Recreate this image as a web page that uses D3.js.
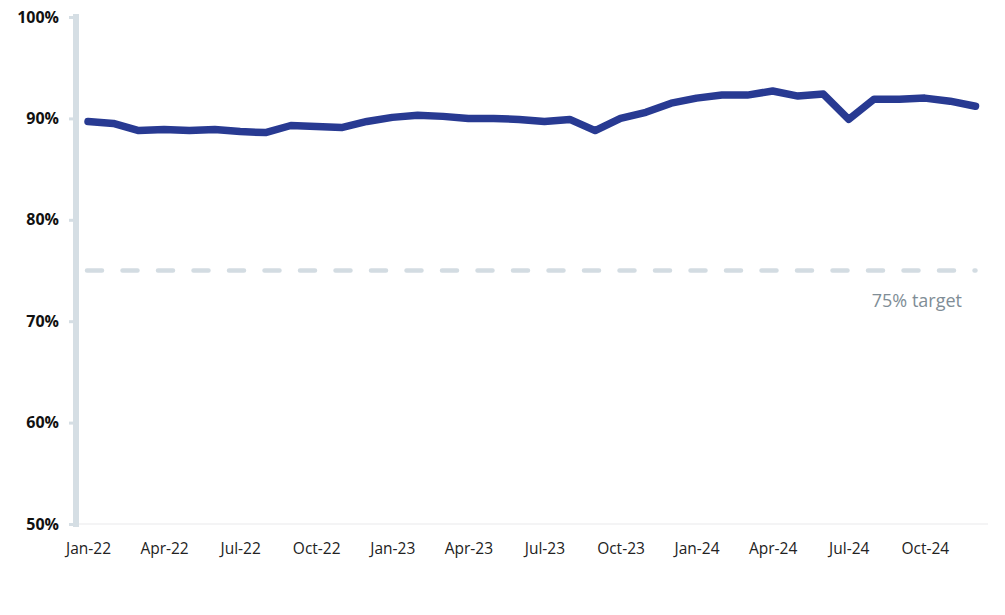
<!DOCTYPE html>
<html>
<head>
<meta charset="utf-8">
<script src="https://cdn.jsdelivr.net/npm/d3@7"></script>
<style>
  body { margin: 0; background: #fff; }
  svg { display: block; font-family: "Open Sans", "Noto Sans", sans-serif; }
</style>
</head>
<body>
<svg id="chart" width="1005" height="615"></svg>
<script>
// monthly values, Jan-22 .. Dec-24 (percent)
const months = [
  'Jan-22', 'Feb-22', 'Mar-22', 'Apr-22', 'May-22', 'Jun-22', 'Jul-22', 'Aug-22', 'Sep-22', 'Oct-22', 'Nov-22', 'Dec-22',
  'Jan-23', 'Feb-23', 'Mar-23', 'Apr-23', 'May-23', 'Jun-23', 'Jul-23', 'Aug-23', 'Sep-23', 'Oct-23', 'Nov-23', 'Dec-23',
  'Jan-24', 'Feb-24', 'Mar-24', 'Apr-24', 'May-24', 'Jun-24', 'Jul-24', 'Aug-24', 'Sep-24', 'Oct-24', 'Nov-24', 'Dec-24'
];
const values = [
  89.7, 89.5, 88.8, 88.9, 88.8, 88.9, 88.7, 88.6, 89.3, 89.2, 89.1, 89.7,
  90.1, 90.3, 90.2, 90.0, 90.0, 89.9, 89.7, 89.9, 88.8, 90.0, 90.6, 91.5,
  92.0, 92.3, 92.3, 92.7, 92.2, 92.4, 89.9, 91.9, 91.9, 92.0, 91.7, 91.2
];
const xTickLabels = ['Jan-22', 'Apr-22', 'Jul-22', 'Oct-22', 'Jan-23', 'Apr-23', 'Jul-23', 'Oct-23', 'Jan-24', 'Apr-24', 'Jul-24', 'Oct-24'];
const yTicks = [50, 60, 70, 80, 90, 100];
const target = 75;
const targetLabel = '75% target';

const width = 1005;
const height = 615;
const margin = { top: 17, right: 30, bottom: 91, left: 88 };

const svg = d3.select('#chart');

const x = d3.scalePoint()
  .domain(months)
  .range([margin.left, 975.5]);

const y = d3.scaleLinear()
  .domain([50, 100])
  .range([height - margin.bottom, margin.top]);

// faint baseline
svg.append('line')
  .attr('x1', 76).attr('x2', 988)
  .attr('y1', y(50)).attr('y2', y(50))
  .attr('stroke', '#f0f1f2')
  .attr('stroke-width', 1.5);

// y axis: thick light bar with short stubs
const yAxis = g => g
  .attr('transform', 'translate(76,0)')
  .call(d3.axisLeft(y).tickValues(yTicks).tickSize(7).tickPadding(10).tickFormat(d => d + '%'))
  .call(g => g.select('.domain')
    .attr('d', `M0,${y(100) - 3}V${y(50) + 3}`)
    .attr('stroke', '#d5dee4')
    .attr('stroke-width', 6))
  .call(g => g.selectAll('.tick line')
    .attr('stroke', '#d5dee4')
    .attr('stroke-width', 3))
  .call(g => g.selectAll('.tick text')
    .attr('fill', '#111')
    .attr('font-size', 16)
    .attr('font-weight', 'bold')
    .attr('font-family', '"Open Sans", sans-serif'));

svg.append('g').call(yAxis);

// x axis labels
const xAxis = g => g
  .attr('transform', `translate(0,${y(50)})`)
  .call(d3.axisBottom(x).tickValues(xTickLabels).tickSize(0).tickPadding(19))
  .call(g => g.select('.domain').remove())
  .call(g => g.selectAll('.tick text')
    .attr('fill', '#222')
    .attr('font-size', 15.5)
    .attr('font-family', '"Open Sans", sans-serif'));

svg.append('g').call(xAxis);

// target line
svg.append('line')
  .attr('x1', x(months[0]) - 1)
  .attr('x2', x(months[months.length - 1]))
  .attr('y1', y(target)).attr('y2', y(target))
  .attr('stroke', '#d3dce2')
  .attr('stroke-width', 4.5)
  .attr('stroke-linecap', 'round')
  .attr('stroke-dasharray', '15 20.5');

svg.append('text')
  .attr('x', 962)
  .attr('y', y(target) + 36)
  .attr('text-anchor', 'end')
  .attr('fill', '#808d96')
  .attr('font-size', 18)
  .text(targetLabel);

// series line
const line = d3.line()
  .x((d, i) => x(months[i]))
  .y(d => y(d));

svg.append('path')
  .datum(values)
  .attr('fill', 'none')
  .attr('stroke', '#283a92')
  .attr('stroke-width', 7.5)
  .attr('stroke-linejoin', 'round')
  .attr('stroke-linecap', 'round')
  .attr('d', line);
</script>
</body>
</html>
